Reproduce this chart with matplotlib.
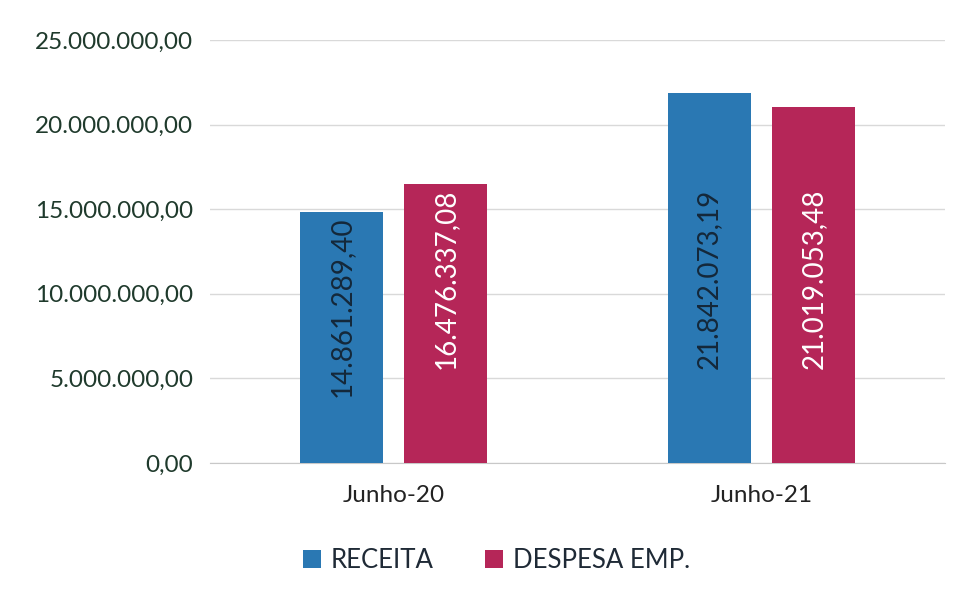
import matplotlib
matplotlib.use("Agg")
import matplotlib.pyplot as plt
import numpy as np

categories = ["Junho-20", "Junho-21"]
receita = [14861289.40, 21842073.19]
despesa = [16476337.08, 21019053.48]
series_names = ["RECEITA", "DESPESA EMP."]
yticks = [0, 5000000, 10000000, 15000000, 20000000, 25000000]

def fmt(v, dec=2):
    s = f"{v:,.{dec}f}"
    return s.replace(",", "X").replace(".", ",").replace("X", ".")

plt.rcParams['font.family'] = ['Lato', 'DejaVu Sans']
fig = plt.figure(figsize=(9.66, 6.01), dpi=100)
ax = fig.add_axes([0.2174, 0.2296, 0.7609, 0.7038])

x = np.arange(len(categories))
w = 0.226
off = 0.142
blue = "#2a78b3"
red = "#b52658"
b1 = ax.bar(x - off, receita, w, color=blue, label=series_names[0], zorder=3)
b2 = ax.bar(x + off, despesa, w, color=red, label=series_names[1], zorder=3)

for bars, vals, tc in [(b1, receita, "#14283a"), (b2, despesa, "white")]:
    for rect, v in zip(bars, vals):
        yc = min(v - 5600000, 10900000)
        ax.text(rect.get_x() + rect.get_width() / 2, yc, fmt(v),
                rotation=90, ha="center", va="center", color=tc, fontsize=20, zorder=4)

ax.set_xlim(-0.5, 1.5)
ax.set_ylim(0, 25000000)
ax.set_yticks(yticks)
ax.set_yticklabels([fmt(t) for t in yticks], fontsize=17.5, color="#1f3a2c")
ax.set_xticks(x)
ax.set_xticklabels(categories, fontsize=17.5, color="#222222")
ax.tick_params(axis="both", length=0)
ax.tick_params(axis="y", pad=12)
ax.tick_params(axis="x", pad=16)
ax.grid(axis="y", color="#d9d9d9", linewidth=1, zorder=0)
for s in ["top", "right", "left"]:
    ax.spines[s].set_visible(False)
ax.spines["bottom"].set_color("#c8c8c8")

fig.legend(loc="center", bbox_to_anchor=(0.514, 0.067), ncol=2, frameon=False,
           fontsize=18.5, handlelength=0.7, handleheight=0.7, columnspacing=2.0,
           handletextpad=0.4, labelcolor="#1f2a36")

fig.savefig("out.png", dpi=100)
